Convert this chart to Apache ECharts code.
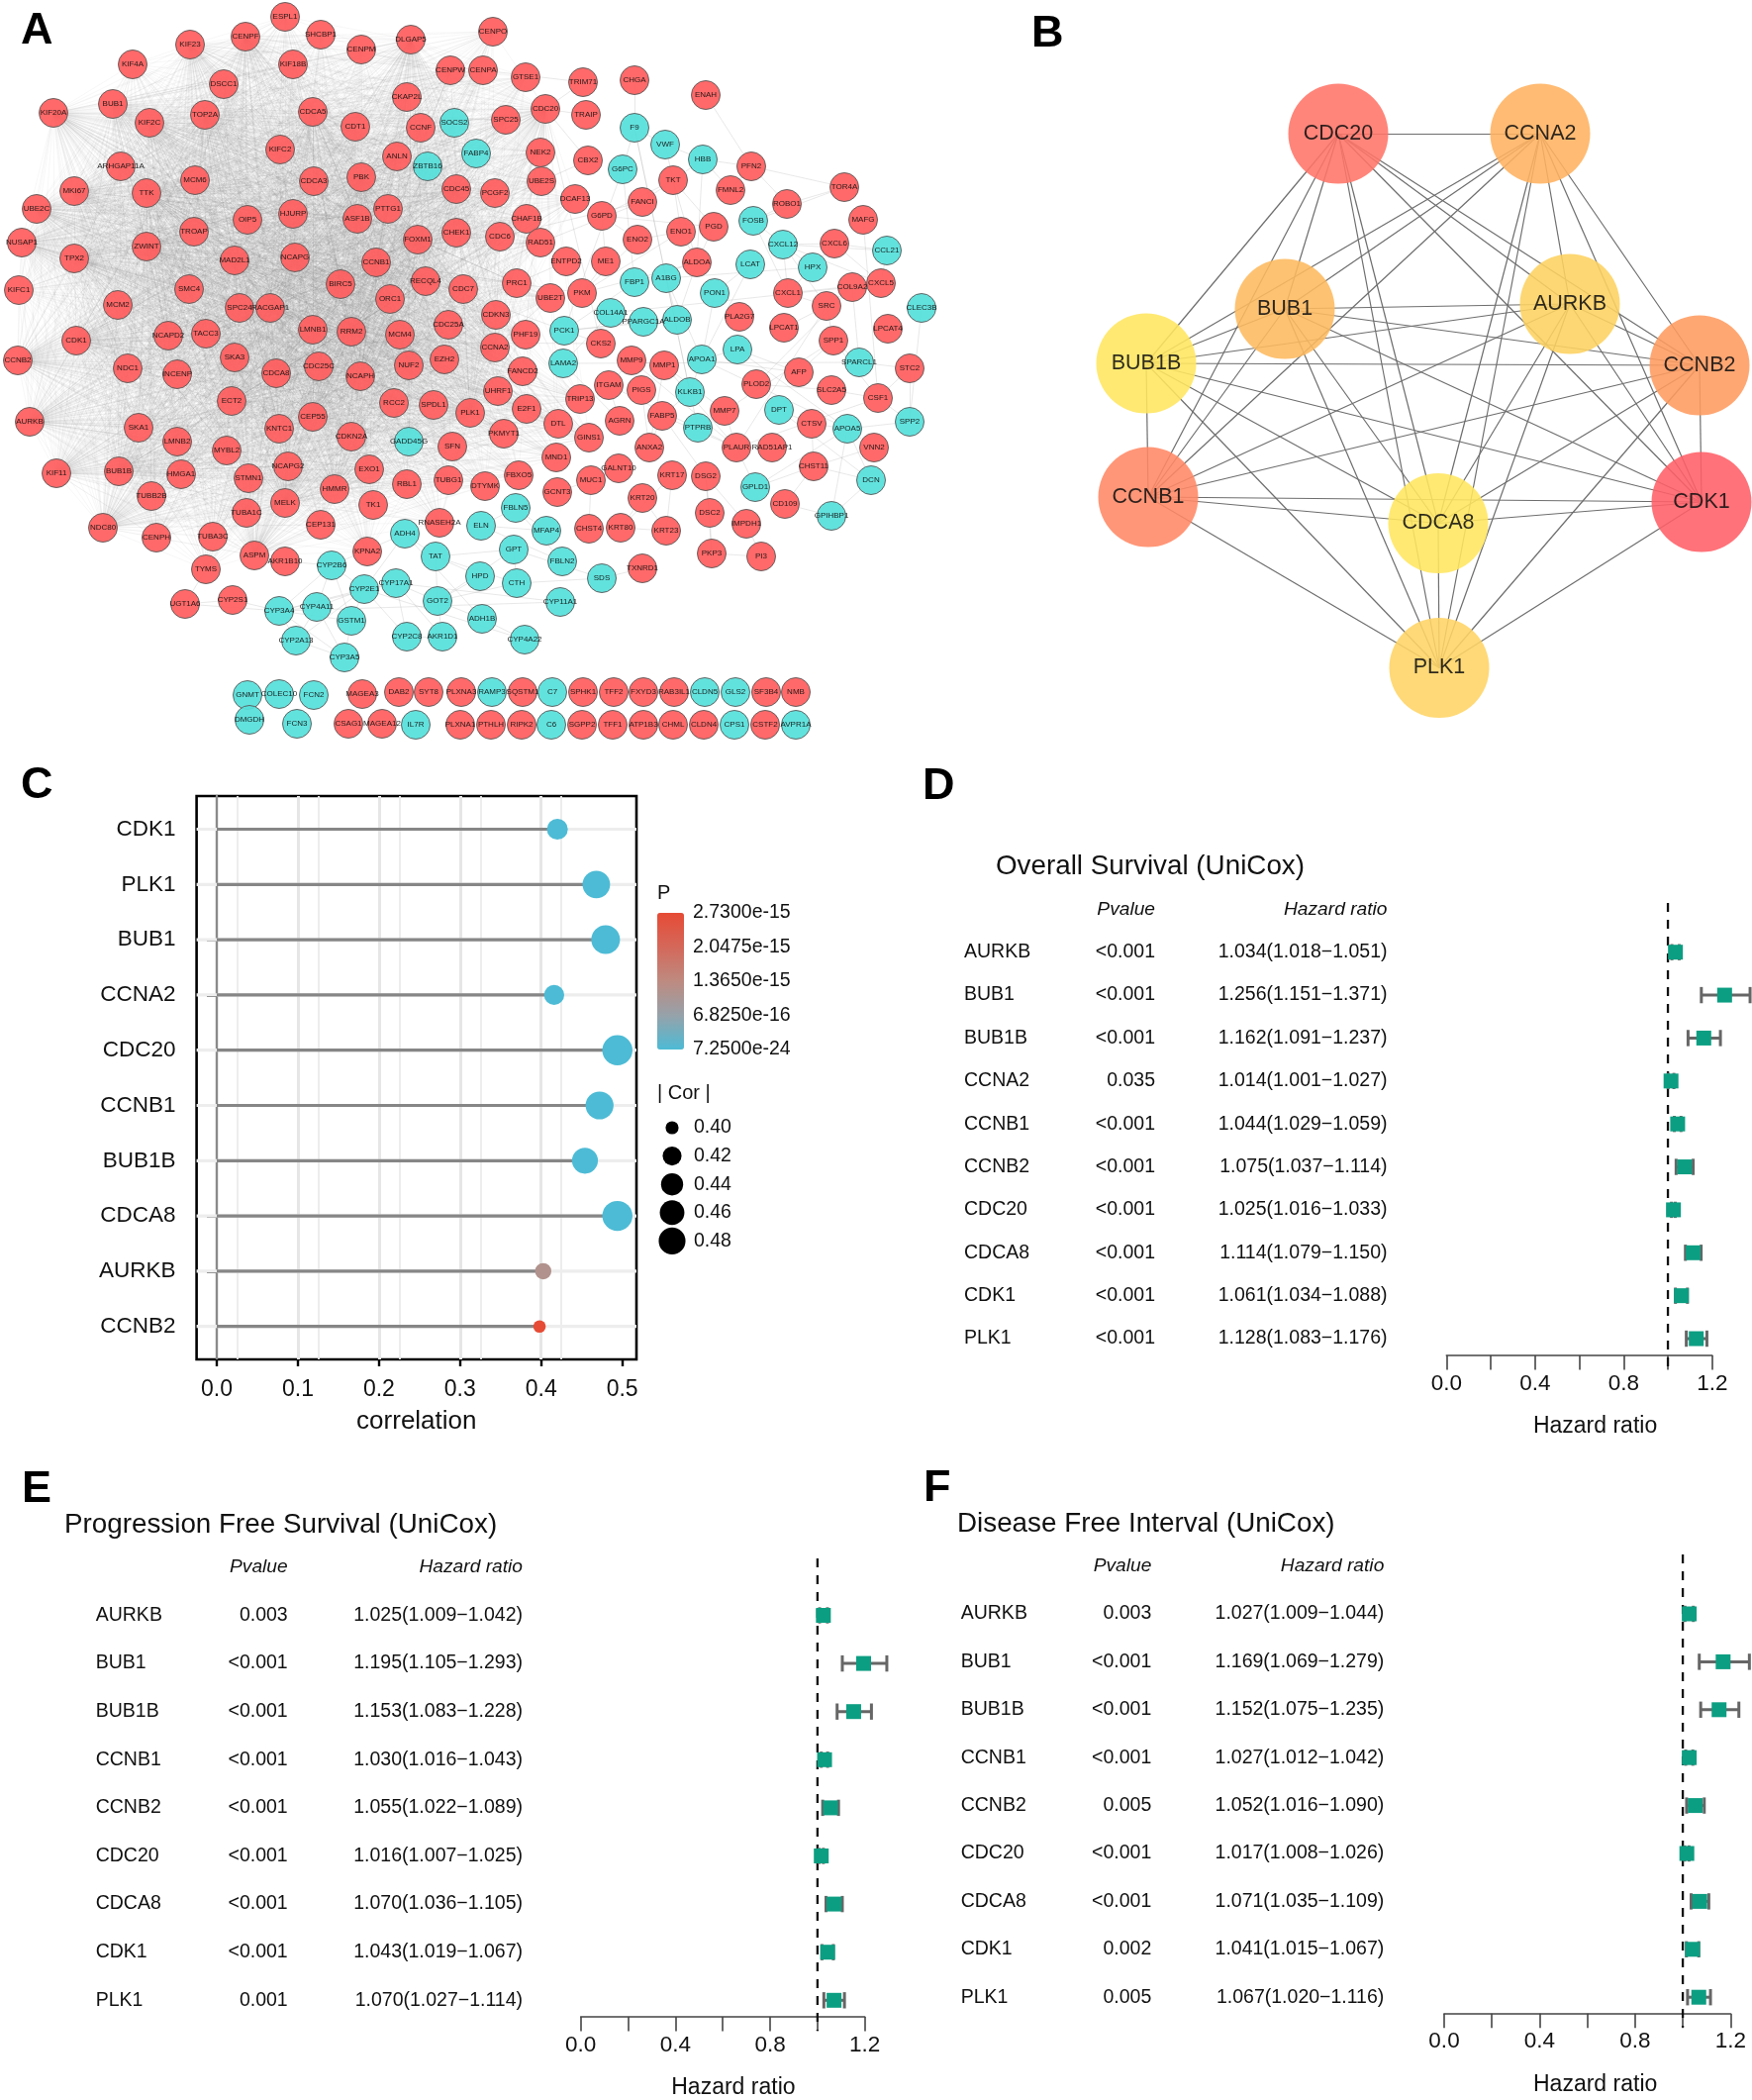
<!DOCTYPE html>
<html><head><meta charset="utf-8">
<script src="https://cdn.jsdelivr.net/npm/echarts@6/dist/echarts.min.js"></script>
<style>html,body{margin:0;padding:0;background:#fff}#c{width:1770px;height:2121px}</style>
</head><body><div id="c"></div>
<script>
// ---------- Panel A: network (gene, layout x, layout y) ----------
const netRedNodes = [
['ESPL1',288,17],['CENPF',248,37],['SHCBP1',324,35],['KIF23',192,45],['DLGAP5',415,40],['CENPM',365,50],['KIF4A',134,65],['KIF18B',296,65],['CENPW',455,71],['DSCC1',226,85],['CKAP2L',411,98],['KIF20A',54,114],['BUB1',114,105],['KIF2C',151,124],['TOP2A',207,116],['CDCA5',316,113],['CDT1',359,128],['CCNF',425,129],['ANLN',401,158],['KIFC2',283,151],['ARHGAP11A',122,168],['MCM6',197,182],['CDCA3',317,183],['PBK',365,179],['MKI67',75,193],['TTK',148,195],['UBE2C',37,211],['PTTG1',392,211],['CDC45',461,191],['HJURP',296,216],['OIP5',250,222],['ASF1B',361,221],['TROAP',196,234],['CHEK1',461,235],['FOXM1',422,242],['NUSAP1',22,245],['ZWINT',148,249],['TPX2',75,261],['MAD2L1',237,263],['NCAPG',298,260],['CCNB1',380,265],['KIFC1',19,293],['SMC4',191,292],['BIRC5',344,287],['RECQL4',430,284],['CDC7',468,292],['ORC1',394,302],['MCM2',119,308],['SPC24',242,311],['RACGAP1',273,311],['CDC25A',453,328],['LMNB1',316,333],['RRM2',355,335],['MCM4',404,338],['NCAPD2',170,339],['TACC3',208,337],['CDK1',77,344],['SKA3',237,361],['NUF2',413,369],['EZH2',449,363],['CCNB2',18,364],['NDC1',129,372],['INCENP',179,378],['CDCA8',279,377],['CDC25C',322,370],['NCAPH',364,380],
['ECT2',234,405],['RCC2',398,407],['SPDL1',438,409],['PLK1',475,417],['CEP55',316,421],['AURKB',30,426],['SKA1',140,432],['KNTC1',282,433],['CDKN2A',355,441],['LMNB2',179,446],['SFN',457,451],['MYBL2',229,455],['KIF11',57,478],['BUB1B',120,476],['HMGA1',183,479],['NCAPG2',291,471],['STMN1',251,483],['EXO1',373,474],['RBL1',411,489],['TUBG1',453,485],['HMMR',338,494],['TUBB2B',153,501],['MELK',288,508],['TK1',377,510],['TUBA1C',249,518],['CEP131',324,530],['RNASEH2A',444,528],['NDC80',104,533],['CENPH',158,543],['TUBA3C',215,542],['KPNA2',371,557],['ASPM',257,561],['AKR1B10',288,567],['TYMS',208,575],['UGT1A6',187,610],['CYP2S1',235,606],
['MAGEA3',366,701],['DAB2',403,699],['SYT8',433,699],['PLXNA3',466,699],['CSAG1',352,731],['MAGEA12',386,731],['PLXNA1',465,732],
['CENPO',498,32],['CENPA',488,71],['GTSE1',531,78],['TRIM71',589,83],['CHGA',641,81],['ENAH',713,96],['CDC20',551,110],['TRAIP',592,116],['SPC25',511,121],['NEK2',546,154],['CBX2',594,162],['PFN2',759,168],['UBE2S',547,183],['TKT',680,182],['TOR4A',853,189],['PCGF2',500,195],['FMNL2',738,192],['DCAF13',581,201],['FANCI',649,204],['ROBO1',795,206],['G6PD',608,218],['CHAF1B',532,221],['MAFG',872,222],['PGD',721,229],['CDC6',505,239],['ENO1',688,234],['ENO2',644,242],['RAD51',546,245],['CXCL6',843,246],['ENTPD2',572,264],['ME1',612,264],['ALDOA',704,265],['PRC1',522,286],['CXCL5',890,286],['COL9A2',861,290],['UBE2T',556,301],['PKM',588,296],['CXCL1',796,296],['SRC',835,309],['CDKN3',501,318],['PLA2G7',747,320],['LPCAT1',792,331],['LPCAT4',897,332],['PHF19',531,338],['SPP1',842,344],['CKS2',607,347],['CCNA2',500,351],['MMP9',638,364],['MMP1',671,369],['STC2',919,372],['FANCD2',528,375],['AFP',807,376],
['ITGAM',615,389],['PIGS',648,394],['UHRF1',503,395],['TRIP13',586,403],['PLOD2',764,388],['SLC2A5',840,394],['CSF1',887,402],['E2F1',532,413],['MMP7',732,415],['FABP5',669,420],['DTL',564,428],['AGRN',626,425],['CTSV',820,428],['PKMYT1',509,438],['GINS1',595,442],['ANXA2',656,452],['PLAUR',744,452],['RAD51AP1',780,452],['VNN2',883,452],['MND1',562,462],['CHST11',822,471],['GALNT10',625,473],['KRT17',679,480],['DSG2',713,481],['FBXO5',524,480],['MUC1',597,485],['DTYMK',490,491],['GCNT3',563,497],['KRT20',649,503],['CD109',793,509],['DSC2',717,518],['CHST4',595,534],['KRT80',627,533],['KRT23',673,536],['IMPDH1',754,529],['PKP3',719,559],['PI3',769,562],['TXNRD1',649,574],
['SQSTM1',528,699],['SPHK1',589,699],['TFF2',620,699],['FXYD3',650,699],['RAB3IL1',681,699],['SF3B4',774,699],['NMB',804,699],['PTHLH',496,732],['RIPK2',527,732],['SGPP2',588,732],['TFF1',619,732],['ATP1B3',650,732],['CHML',680,732],['CLDN4',711,732],['CSTF2',773,732]
];
const netCyanNodes = [
['SOCS2',459,124],['ZBTB16',432,168],['GADD45G',413,446],['ADH4',409,539],['TAT',440,562],['CYP2B6',335,571],['CYP17A1',400,589],['CYP2E1',368,595],['GOT2',442,607],['CYP4A11',320,613],['CYP3A4',282,617],['GSTM1',355,627],['CYP2C8',411,643],['AKR1D1',447,643],['CYP2A13',299,647],['CYP3A5',348,664],['GNMT',250,702],['COLEC10',282,701],['FCN2',317,702],['DMGDH',252,727],['FCN3',300,731],['IL7R',420,732],
['F9',641,129],['VWF',672,146],['FABP4',481,155],['HBB',710,161],['G6PC',629,171],['FOSB',761,223],['CXCL12',791,247],['CCL21',896,253],['LCAT',758,267],['HPX',821,270],['A1BG',673,281],['FBP1',641,285],['PON1',722,296],['CLEC3B',931,311],['COL14A1',617,316],['PPARGC1A',650,325],['ALDOB',684,323],['PCK1',570,334],['LPA',745,353],['APOA1',709,363],['LAMA2',569,367],['SPARCL1',868,366],
['KLKB1',697,396],['DPT',787,414],['PTPRB',705,432],['APOA5',856,433],['SPP2',919,426],['DCN',880,485],['GPLD1',763,492],['FBLN5',521,513],['GPIHBP1',840,521],['ELN',486,531],['MFAP4',552,536],['GPT',519,555],['FBLN2',568,567],['SDS',608,584],['HPD',485,582],['CTH',522,589],['CYP11A1',566,608],['ADH1B',487,625],['CYP4A22',530,646],
['RAMP3',497,699],['C7',558,699],['CLDN5',712,699],['GLS2',743,699],['C6',557,732],['CPS1',742,732],['AVPR1A',804,732]
];
// densely interconnected proliferation module: every member links to every hub
const netHubGenes = ['CDK1','CCNB1','CCNB2','CCNA2','BUB1','BUB1B','AURKB','PLK1','CDC20','CDCA8','TOP2A','KIF11','NCAPG','MAD2L1','TTK','RRM2','BIRC5','CDCA5','NUSAP1','KIF2C','MKI67','TPX2','UBE2C','CENPF','FOXM1','KIF20A','NDC80','ASPM','KIF23','PBK','MELK','CDC45','NUF2','CEP55','ZWINT','HMMR','NCAPH','DLGAP5','RACGAP1','ECT2'];
const netModuleGenes = ['KIF4A','ESPL1','SHCBP1','KIF18B','CENPM','CENPW','CENPO','CENPA','DSCC1','CKAP2L','CDT1','CCNF','ANLN','KIFC2','ARHGAP11A','MCM6','CDCA3','PTTG1','HJURP','OIP5','ASF1B','TROAP','CHEK1','KIFC1','SMC4','RECQL4','CDC7','ORC1','MCM2','SPC24','CDC25A','LMNB1','MCM4','NCAPD2','TACC3','SKA3','EZH2','NDC1','INCENP','CDC25C','RCC2','SPDL1','SKA1','KNTC1','CDKN2A','LMNB2','SFN','MYBL2','HMGA1','NCAPG2','STMN1','EXO1','RBL1','TUBB2B','TK1','TUBA1C','CEP131','CENPH','TUBA3C','KPNA2','TYMS','SPC25','NEK2','UBE2S','PCGF2','CHAF1B','RAD51','CDC6','PRC1','UBE2T','CDKN3','PHF19','FANCD2','UHRF1','E2F1','TRIP13','DTL','GINS1','MND1','PKMYT1','FBXO5','DTYMK','GTSE1','DCAF13','TUBG1','RNASEH2A','GADD45G','SOCS2','ZBTB16','FABP4'];
const netPeripheralEdges = `ENAH PFN2;PFN2 HBB;PFN2 ROBO1;PFN2 TOR4A;ROBO1 TOR4A;ROBO1 FOSB;TOR4A FOSB;F9 CHGA;F9 VWF;F9 G6PC;VWF HBB;VWF TKT;HBB TKT;HBB ALDOA;HBB FMNL2;FMNL2 PFN2;TKT FANCI;TKT ENO1;TKT ALDOA;TKT PGD;TKT G6PD;G6PD PGD;G6PD ME1;G6PD ENO2;ME1 PKM;PKM ENO1;PKM ENO2;ENO1 ENO2;ENO1 ALDOA;PGD ALDOA;ALDOA FBP1;ALDOA ALDOB;ALDOA PKM;FBP1 G6PC;FBP1 PCK1;G6PC PCK1;PCK1 PPARGC1A;PCK1 ALDOB;PPARGC1A ALDOB;A1BG F9;A1BG APOA1;A1BG ALDOB;APOA1 LCAT;APOA1 PON1;LCAT PON1;APOA1 LPA;LPA APOA5;APOA1 APOA5;HPX A1BG;HPX CXCL12;FOSB CXCL12;FOSB CXCL1;CXCL12 CXCL6;CXCL12 CXCL5;CXCL12 CCL21;CXCL6 CCL21;CXCL6 CXCL5;CXCL1 CXCL5;CXCL1 CXCL6;CXCL1 CXCL12;CXCL1 SRC;SRC CXCL12;SRC COL9A2;SRC LPCAT1;SRC PLAUR;SRC SPP1;CCL21 CXCL5;COL9A2 SPARCL1;COL9A2 COL14A1;COL14A1 LAMA2;LAMA2 SPARCL1;SPP1 SPARCL1;STC2 SPP2;STC2 SPARCL1;CSF1 STC2;CSF1 SPP1;CSF1 SPP2;CSF1 MAFG;CSF1 PLAUR;CLEC3B SPP2;SPP1 MMP7;MMP1 MMP9;MMP1 MMP7;MMP9 ITGAM;MMP9 PLAUR;MMP1 PLAUR;PLAUR MMP7;PLAUR FABP5;AFP SPP1;AFP APOA1;AFP LPA;PLOD2 COL9A2;PLOD2 SLC2A5;SLC2A5 CSF1;MMP7 PTPRB;KLKB1 F9;KLKB1 PTPRB;KLKB1 APOA1;KLKB1 A1BG;KLKB1 FABP5;DPT DCN;DPT CTSV;CTSV APOA5;APOA5 VNN2;APOA5 SPP2;APOA5 DCN;APOA5 GPIHBP1;DCN GPIHBP1;CHST11 DCN;CHST11 VNN2;CHST11 CTSV;GPLD1 APOA5;GPLD1 CHST11;GPLD1 PLAUR;CD109 GPIHBP1;CD109 CHST11;IMPDH1 PI3;DSG2 DSC2;DSG2 IMPDH1;DSC2 PKP3;PKP3 PI3;DSG2 PKP3;DSG2 FABP5;KRT17 KRT23;KRT20 KRT80;KRT20 KRT23;KRT80 KRT23;KRT17 KRT80;CHST4 MUC1;GCNT3 MUC1;MUC1 GALNT10;ANXA2 MMP1;ANXA2 FABP5;AGRN LAMA2;ITGAM AGRN;ITGAM PLAUR;PIGS ANXA2;FBLN5 ELN;FBLN5 MFAP4;ELN MFAP4;FBLN2 ELN;FBLN2 FBLN5;GPT GOT2;GPT TAT;TAT GOT2;HPD TAT;HPD GOT2;CTH SDS;CTH GOT2;SDS TXNRD1;SDS GPT;CTH GPT;CTH TAT;ADH1B ADH4;ADH1B GOT2;ADH1B CYP4A22;CYP4A22 CYP2E1;CYP11A1 CYP17A1;CYP11A1 CYP3A4;ADH4 CYP2E1;ADH4 CYP2B6;ADH4 TAT;CYP2B6 CYP3A4;CYP2B6 CYP2E1;CYP2B6 CYP4A11;CYP2B6 GSTM1;CYP2E1 CYP17A1;CYP2E1 CYP3A4;CYP2E1 CYP4A11;CYP2E1 GSTM1;CYP2E1 CYP2C8;CYP2E1 CYP2A13;CYP17A1 CYP3A4;CYP17A1 CYP2C8;CYP17A1 GOT2;CYP17A1 AKR1D1;AKR1D1 CYP2C8;GOT2 AKR1D1;CYP3A4 CYP2A13;CYP3A4 CYP3A5;CYP3A4 CYP4A11;CYP3A4 GSTM1;CYP4A11 CYP3A5;CYP4A11 CYP2A13;CYP2A13 CYP3A5;GSTM1 CYP3A5;CYP2S1 CYP3A4;CYP2S1 UGT1A6;UGT1A6 CYP3A4;UGT1A6 TYMS;AKR1B10 CYP2B6;AKR1B10 ASPM;TRAIP CDC20;TRIM71 CDC20;TRIM71 CENPA;CBX2 UBE2S;CBX2 CDC20;FANCI CDC6;FANCI RAD51;ENTPD2 RAD51;CKS2 CDC20;CKS2 CCNB1;CKS2 CDK1;PKM CCNB1;PRC1 ENTPD2`
  .split(';');

// ---------- Panel B: hub network ----------
const hubNodes = [['CDC20',1352,135],['CCNA2',1556,135],['BUB1',1298,312],['AURKB',1586,307],['BUB1B',1158,367],['CCNB2',1717,369],['CCNB1',1160,502],['CDK1',1719,507],['CDCA8',1453,528.5],['PLK1',1454,674.5]];
const hubEdges = `CDC20 CCNA2;CDC20 BUB1;CDC20 AURKB;CDC20 BUB1B;CDC20 CCNB2;CDC20 CCNB1;CDC20 CDK1;CDC20 CDCA8;CDC20 PLK1;CCNA2 BUB1;CCNA2 AURKB;CCNA2 BUB1B;CCNA2 CCNB2;CCNA2 CCNB1;CCNA2 CDK1;CCNA2 CDCA8;CCNA2 PLK1;BUB1 AURKB;BUB1 BUB1B;BUB1 CCNB2;BUB1 CCNB1;BUB1 CDK1;BUB1 CDCA8;BUB1 PLK1;AURKB BUB1B;AURKB CCNB2;AURKB CCNB1;AURKB CDK1;AURKB CDCA8;AURKB PLK1;BUB1B CCNB2;BUB1B CCNB1;BUB1B CDK1;BUB1B CDCA8;BUB1B PLK1;CCNB2 CCNB1;CCNB2 CDK1;CCNB2 CDCA8;CCNB2 PLK1;CCNB1 CDK1;CCNB1 CDCA8;CCNB1 PLK1;CDK1 CDCA8;CDK1 PLK1;CDCA8 PLK1`.split(';');

// ---------- Panel C: lollipop ----------
const corGenes = ['CDK1','PLK1','BUB1','CCNA2','CDC20','CCNB1','BUB1B','CDCA8','AURKB','CCNB2'];
const corValues = [0.420,0.468,0.4795,0.416,0.494,0.472,0.454,0.494,0.4025,0.398];
const corPValues = [1e-20,1e-22,1e-23,5e-20,7.25e-24,1e-22,1e-21,7.25e-24,1.15e-15,2.73e-15];
const pLegendTicks = [7.25e-24,6.825e-16,1.365e-15,2.0475e-15,2.73e-15];
const corLegendValues = ['0.40','0.42','0.44','0.46','0.48'];

// ---------- Panels D / E / F: forest plots ----------
const osGenes = ['AURKB','BUB1','BUB1B','CCNA2','CCNB1','CCNB2','CDC20','CDCA8','CDK1','PLK1'];
const osP = ['<0.001','<0.001','<0.001','0.035','<0.001','<0.001','<0.001','<0.001','<0.001','<0.001'];
const osHR = [1.034,1.256,1.162,1.014,1.044,1.075,1.025,1.114,1.061,1.128];
const osLow = [1.018,1.151,1.091,1.001,1.029,1.037,1.016,1.079,1.034,1.083];
const osHigh = [1.051,1.371,1.237,1.027,1.059,1.114,1.033,1.150,1.088,1.176];
const pfsGenes = ['AURKB','BUB1','BUB1B','CCNB1','CCNB2','CDC20','CDCA8','CDK1','PLK1'];
const pfsP = ['0.003','<0.001','<0.001','<0.001','<0.001','<0.001','<0.001','<0.001','0.001'];
const pfsHR = [1.025,1.195,1.153,1.030,1.055,1.016,1.070,1.043,1.070];
const pfsLow = [1.009,1.105,1.083,1.016,1.022,1.007,1.036,1.019,1.027];
const pfsHigh = [1.042,1.293,1.228,1.043,1.089,1.025,1.105,1.067,1.114];
const dfiGenes = ['AURKB','BUB1','BUB1B','CCNB1','CCNB2','CDC20','CDCA8','CDK1','PLK1'];
const dfiP = ['0.003','<0.001','<0.001','<0.001','0.005','<0.001','<0.001','0.002','0.005'];
const dfiHR = [1.027,1.169,1.152,1.027,1.052,1.017,1.071,1.041,1.067];
const dfiLow = [1.009,1.069,1.075,1.012,1.016,1.008,1.035,1.015,1.020];
const dfiHigh = [1.044,1.279,1.235,1.042,1.090,1.026,1.109,1.067,1.116];
const hrTickLabels = [0,0.4,0.8,1.2];

// ---------- styles / layout ----------
const FONT = '"Liberation Sans", Arial, sans-serif';
const TEXT = '#111';
const hubColors = {CDC20:'#FF7468',CCNA2:'#FFB260',BUB1:'#FDBA5E',AURKB:'#FDD160',BUB1B:'#FFE65E',CCNB2:'#FF9B60',CCNB1:'#FF8764',CDK1:'#FF5F66',CDCA8:'#FFE65E',PLK1:'#FFD464'};

const grid=[], xAxis=[], yAxis=[], series=[], title=[];
function addGrid(g){g.outerBoundsMode='none';grid.push(g);return grid.length-1;}
const hiddenAxis=(o)=>Object.assign({show:false,type:'value',splitLine:{show:false}},o);

// panel letters & titles
[['A',21,9],['B',1042,12],['C',21,771],['D',932,772],['E',22,1482],['F',933,1481]].forEach(([t,l,tp])=>title.push({text:t,left:l,top:tp,padding:0,textStyle:{fontFamily:FONT,fontWeight:'bold',fontSize:45,color:'#000'}}));

// ---- A
const gA=addGrid({left:0,top:0,width:1000,height:760});
xAxis.push(hiddenAxis({gridIndex:gA,min:0,max:1000}));
yAxis.push(hiddenAxis({gridIndex:gA,min:0,max:760,inverse:true}));
const edgeSet=new Set(), aLinks=[];
function addEdge(a,b,lineStyle){const k=a<b?a+'|'+b:b+'|'+a;if(a===b||edgeSet.has(k))return;edgeSet.add(k);aLinks.push({source:a,target:b,lineStyle});}
netHubGenes.forEach(h=>{netHubGenes.concat(netModuleGenes).forEach(m=>addEdge(h,m,{color:'#7a7a7a',width:0.7,opacity:0.085,curveness:0}));});
netPeripheralEdges.forEach(s=>{const [a,b]=s.split(' ');addEdge(a,b,{color:'#999',width:0.9,opacity:0.25,curveness:0});});
const aNode=(color)=>(n)=>({name:n[0],value:[n[1],n[2]],itemStyle:{color}});
series.push({type:'graph',coordinateSystem:'cartesian2d',xAxisIndex:gA,yAxisIndex:gA,layout:'none',silent:true,animation:false,
  symbolSize:29,
  data:netRedNodes.map(aNode('#FF5C5C')).concat(netCyanNodes.map(aNode('#55E0DA'))),
  links:aLinks,
  itemStyle:{borderColor:'#5a5a5a',borderWidth:1,opacity:0.92},
  label:{show:true,position:'inside',formatter:'{b}',fontFamily:FONT,fontSize:8,color:'#111'}
});

// ---- B
const gB=addGrid({left:990,top:0,width:780,height:740});
xAxis.push(hiddenAxis({gridIndex:gB,min:990,max:1770}));
yAxis.push(hiddenAxis({gridIndex:gB,min:0,max:740,inverse:true}));
series.push({type:'graph',coordinateSystem:'cartesian2d',xAxisIndex:gB,yAxisIndex:gB,layout:'none',silent:true,animation:false,
  symbolSize:101,
  data:hubNodes.map(n=>({name:n[0],value:[n[1],n[2]],itemStyle:{color:hubColors[n[0]]}})),
  links:hubEdges.map(s=>{const [a,b]=s.split(' ');return {source:a,target:b};}),
  itemStyle:{opacity:0.88,borderWidth:0},
  lineStyle:{color:'#6e6e6e',width:1.2,opacity:1,curveness:0},
  label:{show:true,position:'inside',formatter:'{b}',fontFamily:FONT,fontSize:21.5,color:'#111'}
});

// ---- C outer box, x axis, gridlines
const cxMin=-0.0249, cxMax=0.5175;
const gCo=addGrid({left:198.6,top:804,width:444.4,height:569,show:true,backgroundColor:'transparent',borderColor:'#000',borderWidth:2.6});
xAxis.push({gridIndex:gCo,type:'value',min:cxMin,max:cxMax,interval:0.1,name:'correlation',nameLocation:'middle',nameGap:50,
  nameTextStyle:{fontFamily:FONT,fontSize:26,color:TEXT},
  axisLine:{show:false},
  axisTick:{show:true,length:7,customValues:[0,0.1,0.2,0.3,0.4,0.5],lineStyle:{color:'#000',width:2.4}},
  axisLabel:{customValues:[0,0.1,0.2,0.3,0.4,0.5],formatter:v=>v.toFixed(1),margin:19,fontFamily:FONT,fontSize:23,color:TEXT},
  splitLine:{show:true,showMinLine:false,showMaxLine:false,lineStyle:{color:'#E6E6E6',width:3}},
  minorTick:{show:false,splitNumber:2},
  minorSplitLine:{show:true,lineStyle:{color:'#EBEBEB',width:1.8}}});
yAxis.push({gridIndex:gCo,type:'value',min:0,max:1,axisLine:{show:true,onZero:true,lineStyle:{color:'#8a8a8a',width:2.4}},axisTick:{show:false},axisLabel:{show:false},splitLine:{show:false}});

// ---- C inner: categories
const gCi=addGrid({left:198.6,top:809.6,width:444.4,height:558});
xAxis.push(hiddenAxis({gridIndex:gCi,min:cxMin,max:cxMax}));
yAxis.push({gridIndex:gCi,type:'category',inverse:true,data:corGenes,
  axisLine:{show:false},axisTick:{show:true,alignWithLabel:true,length:10,lineStyle:{color:'#000',width:2.5}},
  axisLabel:{interval:0,margin:21,fontFamily:FONT,fontSize:22.5,color:TEXT,padding:[2,0,0,0]},splitLine:{show:false}});
const sizeOf=c=>12.6+17.8*Math.sqrt(Math.max(0,(c-0.398)/0.096));
series.push({type:'bar',xAxisIndex:gCi,yAxisIndex:gCi,data:corValues,barWidth:3.2,silent:true,animation:false,z:3,
  itemStyle:{color:'#868686'},showBackground:true,backgroundStyle:{color:'#EDEDED'}});
const cScatterIndex=series.length;
series.push({type:'scatter',xAxisIndex:gCi,yAxisIndex:gCi,silent:true,animation:false,z:4,
  data:corGenes.map((g,i)=>[corValues[i],g,corPValues[i]]),encode:{x:0,y:1},
  itemStyle:{opacity:1},symbolSize:d=>sizeOf(d[0])});

// ---- C legend: colour bar axis
const gCb=addGrid({left:664,top:922,width:27,height:138});
xAxis.push(hiddenAxis({gridIndex:gCb,min:0,max:1}));
yAxis.push({gridIndex:gCb,type:'value',position:'right',min:pLegendTicks[0],max:pLegendTicks[4],z:20,
  axisLine:{show:false},
  axisTick:{show:true,inside:true,length:5,customValues:pLegendTicks,lineStyle:{color:'#fff',width:1.5}},
  axisLabel:{customValues:pLegendTicks,formatter:v=>v.toExponential(4),margin:9,fontFamily:FONT,fontSize:19.5,color:TEXT},
  splitLine:{show:false}});

// ---- C legend: size dots
const gCs=addGrid({left:665,top:1124.7,width:28,height:143});
xAxis.push(hiddenAxis({gridIndex:gCs,min:0,max:1}));
yAxis.push({gridIndex:gCs,type:'category',position:'right',inverse:true,data:corLegendValues,
  axisLine:{show:false},axisTick:{show:false},axisLabel:{interval:0,margin:8,fontFamily:FONT,fontSize:19.5,color:TEXT},splitLine:{show:false}});
series.push({type:'scatter',xAxisIndex:gCs,yAxisIndex:gCs,silent:true,animation:false,
  data:corLegendValues.map(v=>[0.5,v]),encode:{x:0,y:1},symbolSize:d=>sizeOf(parseFloat(d[1]))-2,itemStyle:{color:'#000',opacity:1}});
title.push({text:'P',left:664,top:892,padding:0,textStyle:{fontFamily:FONT,fontWeight:'normal',fontSize:20,color:TEXT}});
title.push({text:'| Cor |',left:664,top:1094,padding:0,textStyle:{fontFamily:FONT,fontWeight:'normal',fontSize:20,color:TEXT}});

// ---- D/E/F
function forest(cfg){
  const n=cfg.genes.length, step=cfg.step;
  const top=cfg.firstRow-step*1.5, bottom=cfg.firstRow+(n-1)*step+step/2;
  const g=addGrid({left:cfg.x0,top:top,width:cfg.x12-cfg.x0,height:bottom-top});
  xAxis.push({gridIndex:g,type:'value',min:0,max:1.2,interval:0.2,offset:cfg.axisY-bottom,
    name:'Hazard ratio',nameLocation:'middle',nameGap:60,
    nameTextStyle:{fontFamily:FONT,fontSize:23,color:TEXT,padding:[0,0,0,cfg.nameShift*2]},
    axisLine:{show:true,onZero:false,lineStyle:{color:'#444',width:1.6}},
    axisTick:{show:true,length:14.6,lineStyle:{color:'#444',width:1.6}},
    axisLabel:{customValues:hrTickLabels,formatter:v=>v.toFixed(1),margin:17,fontFamily:FONT,fontSize:22.5,color:TEXT},
    splitLine:{show:false}});
  const base=(data,margin,align)=>({gridIndex:g,type:'category',inverse:true,position:'left',data:data,
    axisLine:{show:false},axisTick:{show:false},splitLine:{show:false},
    axisLabel:{interval:0,margin:margin,align:align,fontFamily:FONT,fontSize:19.5,color:TEXT,
      formatter:v=>(v==='Pvalue'||v==='Hazard ratio')?'{i|'+v+'}':v,
      rich:{i:{fontStyle:'italic',fontFamily:FONT,fontSize:19.2,color:TEXT}}}});
  const yi=yAxis.length;
  yAxis.push(base([' '].concat(cfg.genes),cfg.x0-cfg.geneX,'left'));
  yAxis.push(base(['Pvalue'].concat(cfg.p),cfg.x0-cfg.pRight,'right'));
  yAxis.push(base(['Hazard ratio'].concat(cfg.hr.map((h,i)=>h.toFixed(3)+'('+cfg.low[i].toFixed(3)+'\u2212'+cfg.high[i].toFixed(3)+')')),cfg.x0-cfg.hrRight,'right'));
  // dashed reference line at HR = 1
  series.push({type:'custom',xAxisIndex:g,yAxisIndex:yi,silent:true,animation:false,z:3,clip:false,
    data:[[1,cfg.genes[0]]],encode:{x:0,y:1},
    renderItem:(p,api)=>{const x=api.coord([api.value(0),0])[0];
      return {type:'line',shape:{x1:x,y1:cfg.dashTop,x2:x,y2:cfg.axisY+14},style:{stroke:'#111',lineWidth:2.3,lineDash:[9,8],fill:null}};}});
  series.push({type:'custom',xAxisIndex:g,yAxisIndex:yi,silent:true,animation:false,z:4,clip:false,
    data:cfg.genes.map((gn,i)=>[cfg.hr[i],cfg.low[i],cfg.high[i],gn]),encode:{x:[0,1,2],y:3},
    renderItem:(p,api)=>{
      const row=api.value(3), c=api.coord([api.value(0),row]), l=api.coord([api.value(1),row]), h=api.coord([api.value(2),row]);
      const st={stroke:'#666',lineWidth:3,fill:null}, cap=8.2, s=15;
      return {type:'group',children:[
        {type:'line',shape:{x1:l[0],y1:l[1],x2:h[0],y2:h[1]},style:st},
        {type:'line',shape:{x1:l[0],y1:l[1]-cap,x2:l[0],y2:l[1]+cap},style:st},
        {type:'line',shape:{x1:h[0],y1:h[1]-cap,x2:h[0],y2:h[1]+cap},style:st},
        {type:'rect',shape:{x:c[0]-s/2,y:c[1]-s/2,width:s,height:s},style:{fill:'#0C9E82',stroke:null}}
      ]};
    }});
  title.push({text:cfg.title,left:cfg.titleX,top:cfg.titleY-14,padding:0,textStyle:{fontFamily:FONT,fontWeight:'normal',fontSize:27.8,color:TEXT}});
}
forest({title:'Overall Survival (UniCox)',titleX:1006,titleY:875,genes:osGenes,p:osP,hr:osHR,low:osLow,high:osHigh,
  firstRow:961.7,step:43.37,x0:1461.3,x12:1729.8,axisY:1369,dashTop:912,geneX:974,pRight:1167,hrRight:1401.5,nameShift:16});
forest({title:'Progression Free Survival (UniCox)',titleX:65,titleY:1540,genes:pfsGenes,p:pfsP,hr:pfsHR,low:pfsLow,high:pfsHigh,
  firstRow:1631.5,step:48.6,x0:586.7,x12:873.7,axisY:2037,dashTop:1574,geneX:96.7,pRight:290.7,hrRight:528,nameShift:10.7});
forest({title:'Disease Free Interval (UniCox)',titleX:967,titleY:1539,genes:dfiGenes,p:dfiP,hr:dfiHR,low:dfiLow,high:dfiHigh,
  firstRow:1630,step:48.4,x0:1459,x12:1748.3,axisY:2033.7,dashTop:1570,geneX:970.7,pRight:1163.3,hrRight:1398.3,nameShift:8});

const chart=echarts.init(document.getElementById('c'),null,{renderer:'canvas',width:1770,height:2121});
chart.setOption({
  backgroundColor:'#fff',animation:false,title,grid,xAxis,yAxis,series,
  visualMap:[{type:'continuous',show:true,seriesIndex:cScatterIndex,dimension:2,min:pLegendTicks[0],max:pLegendTicks[4],
    left:664,top:922,itemWidth:27,itemHeight:138,text:null,showLabel:false,calculable:false,hoverLink:false,precision:30,padding:0,
    textStyle:{fontSize:0,color:'transparent'},
    formatter:()=>'',
    inRange:{color:['#4DBBD5','#96A2AA','#BE8A80','#D4685A','#E64B35']}}]
});
</script></body></html>
